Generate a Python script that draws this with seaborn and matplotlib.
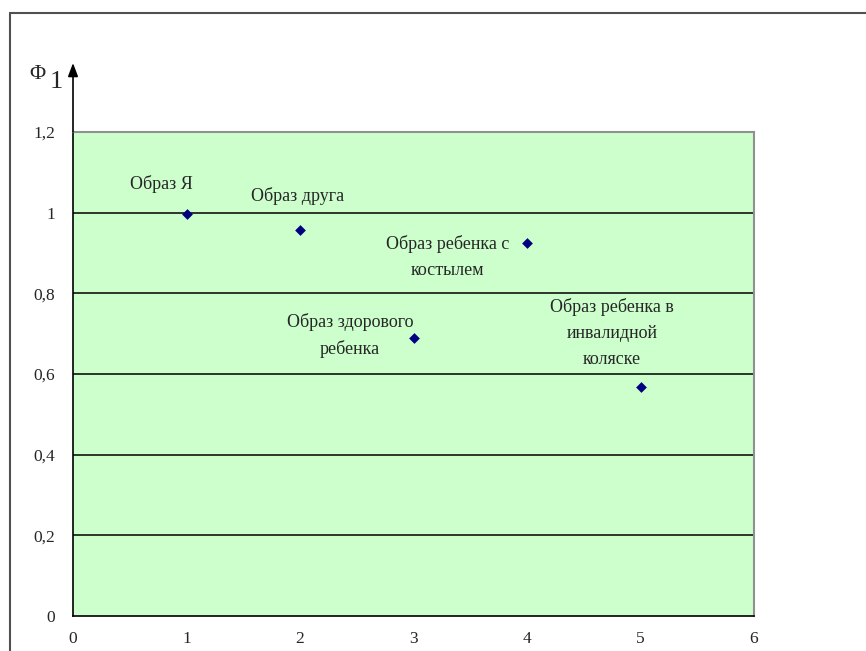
import matplotlib
matplotlib.use("Agg")
import matplotlib.pyplot as plt
from matplotlib.lines import Line2D
import seaborn as sns
import pandas as pd

# Factor 1 loadings for each image
x_pos = [1, 2, 3, 4, 5]
phi1 = [0.997, 0.958, 0.688, 0.925, 0.568]
labels = ["Образ Я", "Образ друга", "Образ здорового\nребенка",
          "Образ ребенка с\nкостылем", "Образ ребенка в\nинвалидной\nколяске"]
# label anchor offsets (data units) relative to each point
label_dx = [-0.22, -0.02, -0.56, -0.70, -0.25]
label_dy = [0.074, 0.082, 0.007, -0.036, 0.134]

y_ticks = [0, 0.2, 0.4, 0.6, 0.8, 1.0, 1.2]
y_ticklabels = ["0", "0,2", "0,4", "0,6", "0,8", "1", "1,2"]
x_ticks = [0, 1, 2, 3, 4, 5, 6]

sns.set_style("white")
plt.rcParams["font.family"] = ["Liberation Serif", "DejaVu Serif"]

df = pd.DataFrame({"x": x_pos, "phi": phi1})

fig = plt.figure(figsize=(8.66, 6.51), dpi=100)
ax = fig.add_axes([0.0843, 0.0538, 0.7864, 0.7435])
ax.set_facecolor("#CCFFCC")

for yv in y_ticks[1:]:
    ax.axhline(yv, color="black", lw=1.1, zorder=1)

sns.scatterplot(data=df, x="x", y="phi", marker="D", s=30, color="#000080",
                edgecolor="#000080", linewidth=0, ax=ax, zorder=3)

for xi, yi, lab, dx, dy in zip(x_pos, phi1, labels, label_dx, label_dy):
    ax.text(xi + dx, yi + dy, lab, ha="center", va="center", fontsize=13,
            linespacing=1.68, zorder=4)

ax.set_xlim(0, 6)
ax.set_ylim(0, 1.2)
ax.set_xticks(x_ticks)
ax.set_xticklabels([str(t) for t in x_ticks])
ax.set_yticks(y_ticks)
ax.set_yticklabels(y_ticklabels)
ax.set_xlabel("")
ax.set_ylabel("")
ax.tick_params(axis="both", direction="out", length=5, width=1, color="black",
               labelsize=12.5, pad=6)
ax.tick_params(axis="y", pad=8)

for side in ["top", "right"]:
    ax.spines[side].set_color("#909090")
    ax.spines[side].set_linewidth(1.5)
for side in ["left", "bottom"]:
    ax.spines[side].set_color("black")
    ax.spines[side].set_linewidth(1.2)

# y axis arrow above the plot area
ax.annotate("", xy=(0, 1.371), xytext=(0, 1.2), xycoords="data",
            arrowprops=dict(arrowstyle="-|>,head_length=0.8,head_width=0.3",
                            color="black", lw=1.2, shrinkA=0, shrinkB=0),
            annotation_clip=False)

# axis name
fig.text(0.034, 0.886, "Φ", fontsize=16, ha="left", va="center")
fig.text(0.057, 0.874, "1", fontsize=19, ha="left", va="center")

# outer frame (top and left edges)
fig.add_artist(Line2D([0.0115, 1.0], [0.980, 0.980], transform=fig.transFigure,
                      color="#505050", lw=1.5))
fig.add_artist(Line2D([0.0115, 0.0115], [0.0, 0.980], transform=fig.transFigure,
                      color="#505050", lw=1.5))

fig.savefig("out.png", dpi=100)
